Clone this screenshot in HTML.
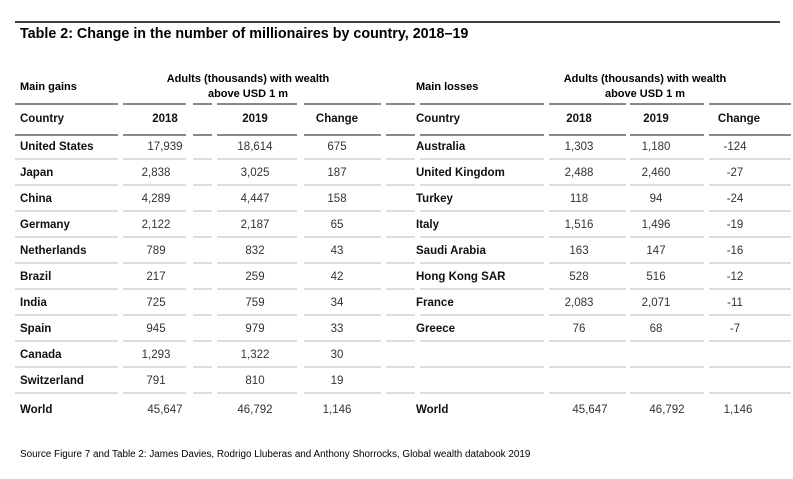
<!DOCTYPE html>
<html><head><meta charset="utf-8"><style>
body{margin:0;background:#fff;font-family:"Liberation Sans",sans-serif;color:#111}
svg text{font-family:"Liberation Sans",sans-serif}
</style></head><body>
<svg id="t" width="793" height="474" xmlns="http://www.w3.org/2000/svg">
<line x1="15" y1="22" x2="780" y2="22" stroke="#000" stroke-width="1.5"/>
<text x="20" y="38" font-size="14.3" font-weight="bold">Table 2: Change in the number of millionaires by country, 2018–19</text>
<text x="20" y="90" font-size="11" font-weight="bold">Main gains</text>
<text x="248" y="82" font-size="11" font-weight="bold" text-anchor="middle">Adults (thousands) with wealth</text>
<text x="248" y="97" font-size="11" font-weight="bold" text-anchor="middle">above USD 1 m</text>
<text x="416" y="90" font-size="11" font-weight="bold">Main losses</text>
<text x="645" y="82" font-size="11" font-weight="bold" text-anchor="middle">Adults (thousands) with wealth</text>
<text x="645" y="97" font-size="11" font-weight="bold" text-anchor="middle">above USD 1 m</text>
<text x="20" y="457" font-size="9.9">Source Figure 7 and Table 2: James Davies, Rodrigo Lluberas and Anthony Shorrocks, Global wealth databook 2019</text>
</svg>
<script>
const gainCountries=["United States","Japan","China","Germany","Netherlands","Brazil","India","Spain","Canada","Switzerland"];
const gain2018=["17,939","2,838","4,289","2,122","789","217","725","945","1,293","791"];
const gain2019=["18,614","3,025","4,447","2,187","832","259","759","979","1,322","810"];
const gainChange=["675","187","158","65","43","42","34","33","30","19"];
const lossCountries=["Australia","United Kingdom","Turkey","Italy","Saudi Arabia","Hong Kong SAR","France","Greece"];
const loss2018=["1,303","2,488","118","1,516","163","528","2,083","76"];
const loss2019=["1,180","2,460","94","1,496","147","516","2,071","68"];
const lossChange=["-124","-27","-24","-19","-16","-12","-11","-7"];
const worldRow=["45,647","46,792","1,146"];
const svg=document.getElementById('t');
const NS="http://www.w3.org/2000/svg";
function txt(x,y,s,anchor,bold,name){const e=document.createElementNS(NS,'text');
e.setAttribute('x',x);e.setAttribute('y',y);e.setAttribute('font-size',bold?'11.5':'11.5');
if(anchor)e.setAttribute('text-anchor',anchor);if(bold)e.setAttribute('font-weight','bold');
e.setAttribute('fill',bold?'#111':'#333');
e.textContent=s;


svg.appendChild(e);}
function seg(x1,x2,y,c,w){const l=document.createElementNS(NS,'line');
l.setAttribute('x1',x1);l.setAttribute('x2',x2);l.setAttribute('y1',y);l.setAttribute('y2',y);
l.setAttribute('stroke',c);l.setAttribute('stroke-width',w);


svg.appendChild(l);}
const segs=[[15,118],[123,186],[193,212],[217,297],[304,381],[386,415],[420,544],[549,626],[630,704],[709,791]];
function rule(y,c,w){segs.forEach(s=>seg(s[0],s[1],y,c,w));}
rule(104,'#444',1.2);rule(135,'#444',1.2);
const L={c:20,a:156,b:255,d:337}, R={c:416,a:579,b:656,d:735};
txt(L.c,122,'Country',null,true,'left-country-header');
txt(165,122,'2018','middle',true,'left-2018-header');
txt(L.b,122,'2019','middle',true,'left-2019-header');
txt(L.d,122,'Change','middle',true,'left-change-header');
txt(R.c,122,'Country',null,true,'right-country-header');
txt(R.a,122,'2018','middle',true,'right-2018-header');
txt(R.b,122,'2019','middle',true,'right-2019-header');
txt(739,122,'Change','middle',true,'right-change-header');
for(let i=0;i<10;i++){const y=150+26*i;
 txt(L.c,y,gainCountries[i],null,true,'gain-country');
 txt(i===0?165:L.a,y,gain2018[i],'middle',false,'gain-2018-value');
 txt(L.b,y,gain2019[i],'middle',false,'gain-2019-value');
 txt(L.d,y,gainChange[i],'middle',false,'gain-change-value');
 if(i<lossCountries.length){
 txt(R.c,y,lossCountries[i],null,true,'loss-country');
 txt(R.a,y,loss2018[i],'middle',false,'loss-2018-value');
 txt(R.b,y,loss2019[i],'middle',false,'loss-2019-value');
 txt(R.d,y,lossChange[i],'middle',false,'loss-change-value');}
 rule(159+26*i,'#bbb',1);}
const wy=413;
txt(L.c,wy,'World',null,true,'left-world-label');
txt(165,wy,worldRow[0],'middle',false,'left-world-2018');
txt(L.b,wy,worldRow[1],'middle',false,'left-world-2019');
txt(L.d,wy,worldRow[2],'middle',false,'left-world-change');
txt(R.c,wy,'World',null,true,'right-world-label');
txt(590,wy,worldRow[0],'middle',false,'right-world-2018');
txt(667,wy,worldRow[1],'middle',false,'right-world-2019');
txt(R.d+3,wy,worldRow[2],'middle',false,'right-world-change');
</script>
</body></html>
